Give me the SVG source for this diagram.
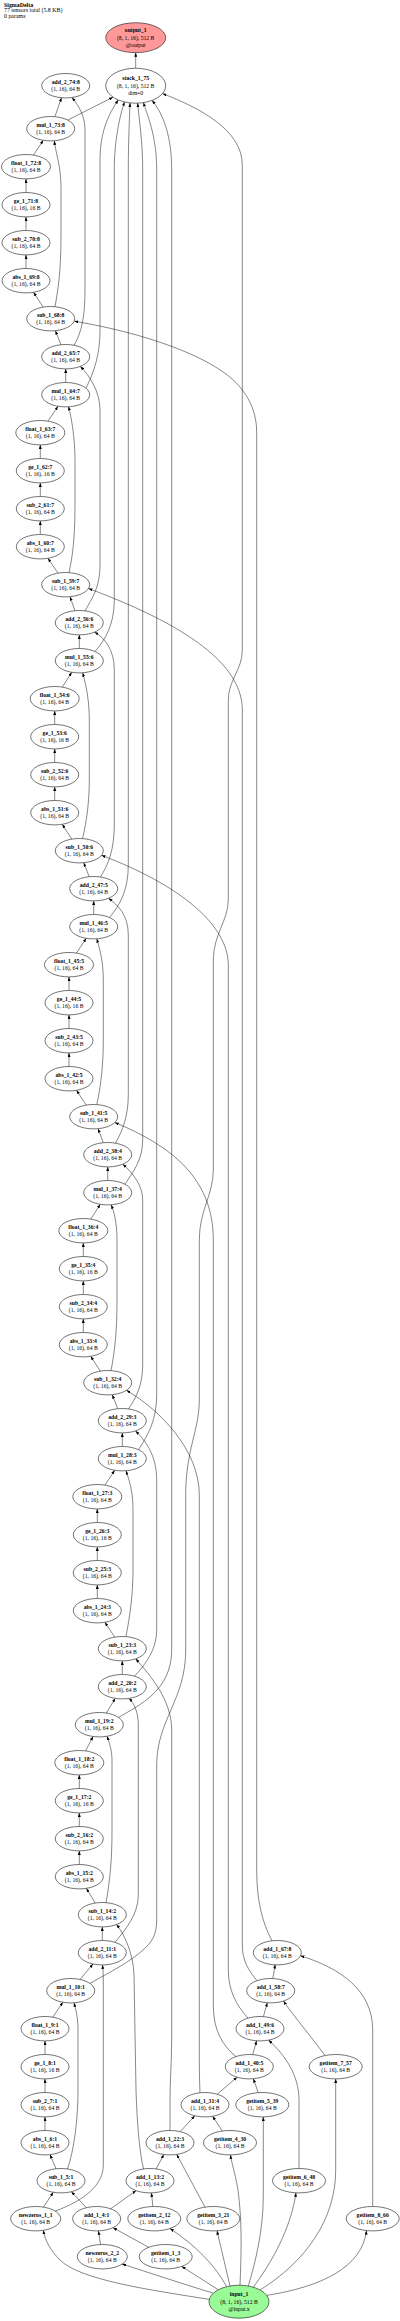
<svg xmlns="http://www.w3.org/2000/svg" width="400" height="2321" viewBox="0 0 400 2321">
<style>
.node ellipse{fill:#fff;stroke:#000;stroke-width:0.55}
text{font-family:"Liberation Serif","Times New Roman",serif;font-size:5.7px;text-anchor:middle;fill:#000}
.b{font-weight:bold}
#title text{text-anchor:start;font-size:5.9px}
#edges path{fill:none;stroke:#111;stroke-width:0.5;marker-end:url(#ah)}
</style>
<defs>
<marker id="ah" markerWidth="4" markerHeight="3" refX="4" refY="1.5" orient="auto" markerUnits="userSpaceOnUse"><path d="M0,0L4,1.5L0,3z" fill="#000"/></marker>
</defs>
<rect width="400" height="2321" fill="#fff"/>
<g id="title"><text x="4" y="6.8" class="b">SigmaDelta</text><text x="4" y="12.4">77 tensors total (5.8 KB)</text><text x="4" y="17.8">0 params</text></g>
<g id="edges">
<path d="M135.7,68.2 L135.7,52.7"/>
<path d="M67.7,120.1 L113,97.2"/>
<path d="M54.9,116.7 L61.5,97.7"/>
<path d="M33.5,155.1 L43.2,140.3"/>
<path d="M55,306.7 C60,280 61,260 61,230 L61,190 C61,165 56,155 54.3,140.8"/>
<path d="M26,192.5 L26,178.9"/>
<path d="M26,230.5 L26,216.9"/>
<path d="M26,268.5 L26,254.9"/>
<path d="M43.2,307.1 L33.5,292.3"/>
<path d="M61,344.7 L55.4,330.7"/>
<path d="M74,345.3 C82,332 85,315 85,290 L85,130 C85,115 78,105 72,97.5"/>
<path d="M272,1940.8 C262,1922 256.7,1900 256.7,1870 L256.7,432 C256.7,414 250,400 243,391 C222,360 150,334 74.3,321.2"/>
<path d="M65.7,382.5 L65.7,368.9"/>
<path d="M86,388.2 C94,372 100,355 100,330 L100,160 C100,130 110,112 118.3,100"/>
<path d="M48,421.1 L58,406.3"/>
<path d="M69,572.6 C74,550 75,530 75,500 L75,460 C75,440 72,420 68.5,406.6"/>
<path d="M40.3,458.5 L40.3,444.9"/>
<path d="M40.3,496.5 L40.3,482.9"/>
<path d="M40.3,534.5 L40.3,520.9"/>
<path d="M58,573.1 L48,558.3"/>
<path d="M75,610.7 L70,596.7"/>
<path d="M85,610.9 C92,598 100,588 100,565 L100,410 C100,392 90,376 80.3,366.4"/>
<path d="M79.3,648.5 L79.3,634.9"/>
<path d="M95,651.5 C105,640 114.3,625 114.3,600 L114.3,170 C114.3,140 120,115 124.5,101.9"/>
<path d="M62.2,687.1 L71.8,672.3"/>
<path d="M82.5,838.6 C87,820 89.3,800 89.3,780 L89.3,720 C89.3,700 86,685 82.7,672.8"/>
<path d="M54.7,724.5 L54.7,710.9"/>
<path d="M54.7,762.5 L54.7,748.9"/>
<path d="M54.7,800.5 L54.7,786.9"/>
<path d="M71.8,839.1 L62.2,824.3"/>
<path d="M89.2,876.7 L83.8,862.7"/>
<path d="M100.5,877 C108,865 114.3,850 114.3,825 L114.3,670 C114.3,650 105,638 94.5,632.1"/>
<path d="M93.7,914.5 L93.7,900.9"/>
<path d="M109.5,917.5 C120,905 128.3,890 128.3,865 L128.3,170 C128.3,140 129.5,120 130,102.9"/>
<path d="M76.5,953.1 L86.2,938.3"/>
<path d="M96.8,1104.6 C101,1085 103.3,1065 103.3,1040 L103.3,980 C103.3,962 100,950 96.8,938.8"/>
<path d="M69,990.5 L69,976.9"/>
<path d="M69,1028.5 L69,1014.9"/>
<path d="M69,1066.5 L69,1052.9"/>
<path d="M86.2,1105.1 L76.5,1090.3"/>
<path d="M103.3,1142.7 L98.1,1128.7"/>
<path d="M115.5,1143.1 C123,1130 128.3,1115 128.3,1095 L128.3,935 C128.3,915 118,905 108.5,898.3"/>
<path d="M107.7,1180.5 L107.7,1166.9"/>
<path d="M125,1184.2 C133,1172 142.7,1160 142.7,1140 L142.7,170 C142.7,140 139,120 137.7,103.1"/>
<path d="M90.7,1219.1 L100.3,1204.3"/>
<path d="M111,1370.6 C115,1350 117,1330 117,1300 L117,1240 C117,1222 114,1212 111.2,1204.8"/>
<path d="M83.3,1256.5 L83.3,1242.9"/>
<path d="M83.3,1294.5 L83.3,1280.9"/>
<path d="M83.3,1332.5 L83.3,1318.9"/>
<path d="M100.3,1371.1 L90.7,1356.3"/>
<path d="M117.7,1408.7 L112.3,1394.7"/>
<path d="M128.5,1408.9 C136,1398 142.7,1385 142.7,1365 L142.7,1200 C142.7,1185 132,1172 122.8,1164.2"/>
<path d="M122.3,1446.5 L122.3,1432.9"/>
<path d="M138.5,1449.7 C148,1435 156.7,1420 156.7,1395 L156.7,170 C156.7,135 147,115 143.5,102.6"/>
<path d="M104.9,1485.1 L114.7,1470.3"/>
<path d="M126,1636.6 C130,1615 133,1595 133,1570 L133,1510 C133,1490 129,1480 126,1470.8"/>
<path d="M97.3,1522.5 L97.3,1508.9"/>
<path d="M97.3,1560.5 L97.3,1546.9"/>
<path d="M97.3,1598.5 L97.3,1584.9"/>
<path d="M114.7,1637.1 L104.9,1622.3"/>
<path d="M122.3,1674.5 L122.3,1660.9"/>
<path d="M134.5,1676.2 C145,1665 156.7,1650 156.7,1630 L156.7,1480 C156.7,1455 145,1440 135.5,1430.9"/>
<path d="M106.4,1713 L115.2,1698.4"/>
<path d="M118.5,1717.4 C140,1705 171.7,1690 171.7,1650 L171.7,170 C171.7,130 160,110 152,100.4"/>
<path d="M85.5,1750.9 L93.1,1736.5"/>
<path d="M106,1902.8 C110,1880 112,1860 112,1830 L112,1760 C112,1750 109,1742 107,1736.3"/>
<path d="M79.3,1788.5 L79.3,1774.9"/>
<path d="M79.3,1826.5 L79.3,1812.9"/>
<path d="M79.3,1864.5 L79.3,1850.9"/>
<path d="M95.2,1903 L86.4,1888.4"/>
<path d="M102.3,1940.5 L102.3,1926.9"/>
<path d="M115,1942.3 C125,1930 138.3,1915 138.3,1895 L138.3,1725 C138.3,1712 134,1703 129,1698.4"/>
<path d="M80,1979.5 L93,1964"/>
<path d="M90,1983.4 C110,1972 130,1962 143,1950 C152,1942 156.7,1935 156.7,1920 L156.7,1765 C156.7,1720 185.7,1700 185.7,1650 L185.7,1495 C185.7,1450 199.3,1430 199.3,1400 L199.3,1240 C199.3,1210 213.3,1195 213.3,1170 L213.3,960 C213.3,935 228.3,920 228.3,900 L228.3,700 C228.3,680 242.3,670 242.3,650 L242.3,165 C242.3,130 200,108 162.5,93.6"/>
<path d="M52.8,2017.2 L62.9,2002.2"/>
<path d="M67.5,2169 C74,2150 78,2120 78,2090 L78,2030 C78,2018 76,2010 74,2002.8"/>
<path d="M45,2054.5 L45,2040.9"/>
<path d="M45,2092.5 L45,2078.9"/>
<path d="M45,2130.5 L45,2116.9"/>
<path d="M56,2168.8 L50,2154.6"/>
<path d="M43.4,2207.2 L53.3,2192.3"/>
<path d="M86.4,2207.7 L71.4,2191.7"/>
<path d="M55,2211.2 C85,2200 103.3,2185 103.3,2165 L103.3,1980 C103.3,1972 102.8,1968 102.5,1964.9"/>
<path d="M110.6,2208.8 L136.1,2190.6"/>
<path d="M152.9,2206.5 L151.4,2192.9"/>
<path d="M100.5,2244.5 L98.5,2230.9"/>
<path d="M148.7,2247.3 L113,2227.7"/>
<path d="M156.2,2168.9 L163.8,2154.5"/>
<path d="M143.5,2169 C139,2150 137,2120 136,2090 L134,1975 C133.5,1955 125,1935 116.5,1924.5"/>
<path d="M205,2207.1 L176.7,2154.4"/>
<path d="M180.2,2131.6 L194.8,2115.8"/>
<path d="M170,2130.5 L170,2100 C170,2080 171.7,2060 171.7,2040 L171.7,1730 C171.7,1700 150,1675 135.7,1658.8"/>
<path d="M222.3,2131 L212.6,2116.3"/>
<path d="M217.2,2094.2 L237.1,2077.2"/>
<path d="M200,2092.8 C199.5,2080 199.3,2070 199.3,2050 L199.3,1495 C199.3,1450 160,1410 126.5,1390.3"/>
<path d="M258.2,2092.7 L253.4,2078.7"/>
<path d="M252.7,2054.6 L256.6,2040.8"/>
<path d="M236,2056.6 C222,2045 213.3,2030 213.3,2005 L213.3,1240 C213.3,1205 200,1185 190,1172 C170,1148 140,1133 114.8,1122.5"/>
<path d="M299,2168.5 L299,2100 C299,2075 285,2055 268.5,2040.1"/>
<path d="M263.4,2016.6 L267.3,2002.8"/>
<path d="M248,2018.1 C236,2005 228.3,1990 228.3,1970 L228.3,965 C228.3,925 180,885 101.5,855.3"/>
<path d="M325,2055.5 C310,2035 295,2018 283.5,2001"/>
<path d="M272.8,1978.6 L275.2,1964.6"/>
<path d="M257,1980.7 C248,1970 242.3,1960 242.3,1945 L242.3,710 C242.3,670 200,630 88.5,588.5"/>
<path d="M372.7,2206.5 L372.7,2030 C372.7,1990 340,1968 300.5,1955.8"/>
<path d="M209.5,2299.4 C150,2290 80,2280 60,2260 C50,2250 45,2240 43.3,2230.3"/>
<path d="M213.3,2293.2 C180,2283 150,2273 122,2264"/>
<path d="M218.3,2289.8 L181.7,2266.4"/>
<path d="M226.7,2286.7 C215,2265 195,2245 170,2228.5"/>
<path d="M230,2286 L217,2230.8"/>
<path d="M240,2285.2 C241.5,2250 242,2220 238,2190 C235,2172 231.5,2163 230.5,2154.9"/>
<path d="M248.3,2286 C256,2260 263.3,2230 263.3,2195 L263.3,2116.9"/>
<path d="M253.3,2287.2 C272,2262 291,2228 296,2192.8"/>
<path d="M260,2290 C305,2262 335.7,2220 335.7,2170 L335.7,2078.9"/>
<path d="M266.7,2295.4 C320,2287 362,2268 366.5,2230.6"/>
</g>
<g id="output_1" class="node"><ellipse cx="135.7" cy="37.7" rx="30" ry="15" style="fill:#ff9999"/><text x="135.7" y="32.3" class="b">output_1</text><text x="135.7" y="39.6">(8, 1, 16), 512 B</text><text x="135.7" y="46.9">@output</text></g>
<g id="stack_1_75" class="node"><ellipse cx="135.7" cy="85.7" rx="30" ry="17.5"/><text x="135.7" y="80.3" class="b">stack_1_75</text><text x="135.7" y="87.6">(8, 1, 16), 512 B</text><text x="135.7" y="94.9">dim=0</text></g>
<g id="add_2_74_8" class="node"><ellipse cx="65.7" cy="85.7" rx="24" ry="12.2"/><text x="65.7" y="83.9" class="b">add_2_74:8</text><text x="65.7" y="91.3">(1, 16), 64 B</text></g>
<g id="mul_1_73_8" class="node"><ellipse cx="50.7" cy="128.7" rx="24" ry="12.2"/><text x="50.7" y="126.9" class="b">mul_1_73:8</text><text x="50.7" y="134.3">(1, 16), 64 B</text></g>
<g id="float_1_72_8" class="node"><ellipse cx="26" cy="166.7" rx="24.5" ry="12.2"/><text x="26" y="164.9" class="b">float_1_72:8</text><text x="26" y="172.3">(1, 16), 64 B</text></g>
<g id="ge_1_71_8" class="node"><ellipse cx="26" cy="204.7" rx="24" ry="12.2"/><text x="26" y="202.9" class="b">ge_1_71:8</text><text x="26" y="210.3">(1, 16), 16 B</text></g>
<g id="sub_2_70_8" class="node"><ellipse cx="26" cy="242.7" rx="24" ry="12.2"/><text x="26" y="240.9" class="b">sub_2_70:8</text><text x="26" y="248.3">(1, 16), 64 B</text></g>
<g id="abs_1_69_8" class="node"><ellipse cx="26" cy="280.7" rx="24" ry="12.2"/><text x="26" y="278.9" class="b">abs_1_69:8</text><text x="26" y="286.3">(1, 16), 64 B</text></g>
<g id="sub_1_68_8" class="node"><ellipse cx="50.7" cy="318.7" rx="24" ry="12.2"/><text x="50.7" y="316.9" class="b">sub_1_68:8</text><text x="50.7" y="324.3">(1, 16), 64 B</text></g>
<g id="add_2_65_7" class="node"><ellipse cx="65.7" cy="356.7" rx="24" ry="12.2"/><text x="65.7" y="354.9" class="b">add_2_65:7</text><text x="65.7" y="362.3">(1, 16), 64 B</text></g>
<g id="mul_1_64_7" class="node"><ellipse cx="65.7" cy="394.7" rx="24" ry="12.2"/><text x="65.7" y="392.9" class="b">mul_1_64:7</text><text x="65.7" y="400.3">(1, 16), 64 B</text></g>
<g id="float_1_63_7" class="node"><ellipse cx="40.3" cy="432.7" rx="24.5" ry="12.2"/><text x="40.3" y="430.9" class="b">float_1_63:7</text><text x="40.3" y="438.3">(1, 16), 64 B</text></g>
<g id="ge_1_62_7" class="node"><ellipse cx="40.3" cy="470.7" rx="24" ry="12.2"/><text x="40.3" y="468.9" class="b">ge_1_62:7</text><text x="40.3" y="476.3">(1, 16), 16 B</text></g>
<g id="sub_2_61_7" class="node"><ellipse cx="40.3" cy="508.7" rx="24" ry="12.2"/><text x="40.3" y="506.9" class="b">sub_2_61:7</text><text x="40.3" y="514.3">(1, 16), 64 B</text></g>
<g id="abs_1_60_7" class="node"><ellipse cx="40.3" cy="546.7" rx="24" ry="12.2"/><text x="40.3" y="544.9" class="b">abs_1_60:7</text><text x="40.3" y="552.3">(1, 16), 64 B</text></g>
<g id="sub_1_59_7" class="node"><ellipse cx="65.7" cy="584.7" rx="24" ry="12.2"/><text x="65.7" y="582.9" class="b">sub_1_59:7</text><text x="65.7" y="590.3">(1, 16), 64 B</text></g>
<g id="add_2_56_6" class="node"><ellipse cx="79.3" cy="622.7" rx="24" ry="12.2"/><text x="79.3" y="620.9" class="b">add_2_56:6</text><text x="79.3" y="628.3">(1, 16), 64 B</text></g>
<g id="mul_1_55_6" class="node"><ellipse cx="79.3" cy="660.7" rx="24" ry="12.2"/><text x="79.3" y="658.9" class="b">mul_1_55:6</text><text x="79.3" y="666.3">(1, 16), 64 B</text></g>
<g id="float_1_54_6" class="node"><ellipse cx="54.7" cy="698.7" rx="24.5" ry="12.2"/><text x="54.7" y="696.9" class="b">float_1_54:6</text><text x="54.7" y="704.3">(1, 16), 64 B</text></g>
<g id="ge_1_53_6" class="node"><ellipse cx="54.7" cy="736.7" rx="24" ry="12.2"/><text x="54.7" y="734.9" class="b">ge_1_53:6</text><text x="54.7" y="742.3">(1, 16), 16 B</text></g>
<g id="sub_2_52_6" class="node"><ellipse cx="54.7" cy="774.7" rx="24" ry="12.2"/><text x="54.7" y="772.9" class="b">sub_2_52:6</text><text x="54.7" y="780.3">(1, 16), 64 B</text></g>
<g id="abs_1_51_6" class="node"><ellipse cx="54.7" cy="812.7" rx="24" ry="12.2"/><text x="54.7" y="810.9" class="b">abs_1_51:6</text><text x="54.7" y="818.3">(1, 16), 64 B</text></g>
<g id="sub_1_50_6" class="node"><ellipse cx="79.3" cy="850.7" rx="24" ry="12.2"/><text x="79.3" y="848.9" class="b">sub_1_50:6</text><text x="79.3" y="856.3">(1, 16), 64 B</text></g>
<g id="add_2_47_5" class="node"><ellipse cx="93.7" cy="888.7" rx="24" ry="12.2"/><text x="93.7" y="886.9" class="b">add_2_47:5</text><text x="93.7" y="894.3">(1, 16), 64 B</text></g>
<g id="mul_1_46_5" class="node"><ellipse cx="93.7" cy="926.7" rx="24" ry="12.2"/><text x="93.7" y="924.9" class="b">mul_1_46:5</text><text x="93.7" y="932.3">(1, 16), 64 B</text></g>
<g id="float_1_45_5" class="node"><ellipse cx="69" cy="964.7" rx="24.5" ry="12.2"/><text x="69" y="962.9" class="b">float_1_45:5</text><text x="69" y="970.3">(1, 16), 64 B</text></g>
<g id="ge_1_44_5" class="node"><ellipse cx="69" cy="1002.7" rx="24" ry="12.2"/><text x="69" y="1000.9" class="b">ge_1_44:5</text><text x="69" y="1008.3">(1, 16), 16 B</text></g>
<g id="sub_2_43_5" class="node"><ellipse cx="69" cy="1040.7" rx="24" ry="12.2"/><text x="69" y="1038.9" class="b">sub_2_43:5</text><text x="69" y="1046.3">(1, 16), 64 B</text></g>
<g id="abs_1_42_5" class="node"><ellipse cx="69" cy="1078.7" rx="24" ry="12.2"/><text x="69" y="1076.9" class="b">abs_1_42:5</text><text x="69" y="1084.3">(1, 16), 64 B</text></g>
<g id="sub_1_41_5" class="node"><ellipse cx="93.7" cy="1116.7" rx="24" ry="12.2"/><text x="93.7" y="1114.9" class="b">sub_1_41:5</text><text x="93.7" y="1122.3">(1, 16), 64 B</text></g>
<g id="add_2_38_4" class="node"><ellipse cx="107.7" cy="1154.7" rx="24" ry="12.2"/><text x="107.7" y="1152.9" class="b">add_2_38:4</text><text x="107.7" y="1160.3">(1, 16), 64 B</text></g>
<g id="mul_1_37_4" class="node"><ellipse cx="107.7" cy="1192.7" rx="24" ry="12.2"/><text x="107.7" y="1190.9" class="b">mul_1_37:4</text><text x="107.7" y="1198.3">(1, 16), 64 B</text></g>
<g id="float_1_36_4" class="node"><ellipse cx="83.3" cy="1230.7" rx="24.5" ry="12.2"/><text x="83.3" y="1228.9" class="b">float_1_36:4</text><text x="83.3" y="1236.3">(1, 16), 64 B</text></g>
<g id="ge_1_35_4" class="node"><ellipse cx="83.3" cy="1268.7" rx="24" ry="12.2"/><text x="83.3" y="1266.9" class="b">ge_1_35:4</text><text x="83.3" y="1274.3">(1, 16), 16 B</text></g>
<g id="sub_2_34_4" class="node"><ellipse cx="83.3" cy="1306.7" rx="24" ry="12.2"/><text x="83.3" y="1304.9" class="b">sub_2_34:4</text><text x="83.3" y="1312.3">(1, 16), 64 B</text></g>
<g id="abs_1_33_4" class="node"><ellipse cx="83.3" cy="1344.7" rx="24" ry="12.2"/><text x="83.3" y="1342.9" class="b">abs_1_33:4</text><text x="83.3" y="1350.3">(1, 16), 64 B</text></g>
<g id="sub_1_32_4" class="node"><ellipse cx="107.7" cy="1382.7" rx="24" ry="12.2"/><text x="107.7" y="1380.9" class="b">sub_1_32:4</text><text x="107.7" y="1388.3">(1, 16), 64 B</text></g>
<g id="add_2_29_3" class="node"><ellipse cx="122.3" cy="1420.7" rx="24" ry="12.2"/><text x="122.3" y="1418.9" class="b">add_2_29:3</text><text x="122.3" y="1426.3">(1, 16), 64 B</text></g>
<g id="mul_1_28_3" class="node"><ellipse cx="122.3" cy="1458.7" rx="24" ry="12.2"/><text x="122.3" y="1456.9" class="b">mul_1_28:3</text><text x="122.3" y="1464.3">(1, 16), 64 B</text></g>
<g id="float_1_27_3" class="node"><ellipse cx="97.3" cy="1496.7" rx="24.5" ry="12.2"/><text x="97.3" y="1494.9" class="b">float_1_27:3</text><text x="97.3" y="1502.3">(1, 16), 64 B</text></g>
<g id="ge_1_26_3" class="node"><ellipse cx="97.3" cy="1534.7" rx="24" ry="12.2"/><text x="97.3" y="1532.9" class="b">ge_1_26:3</text><text x="97.3" y="1540.3">(1, 16), 16 B</text></g>
<g id="sub_2_25_3" class="node"><ellipse cx="97.3" cy="1572.7" rx="24" ry="12.2"/><text x="97.3" y="1570.9" class="b">sub_2_25:3</text><text x="97.3" y="1578.3">(1, 16), 64 B</text></g>
<g id="abs_1_24_3" class="node"><ellipse cx="97.3" cy="1610.7" rx="24" ry="12.2"/><text x="97.3" y="1608.9" class="b">abs_1_24:3</text><text x="97.3" y="1616.3">(1, 16), 64 B</text></g>
<g id="sub_1_23_3" class="node"><ellipse cx="122.3" cy="1648.7" rx="24" ry="12.2"/><text x="122.3" y="1646.9" class="b">sub_1_23:3</text><text x="122.3" y="1654.3">(1, 16), 64 B</text></g>
<g id="add_2_20_2" class="node"><ellipse cx="122.3" cy="1686.7" rx="24" ry="12.2"/><text x="122.3" y="1684.9" class="b">add_2_20:2</text><text x="122.3" y="1692.3">(1, 16), 64 B</text></g>
<g id="mul_1_19_2" class="node"><ellipse cx="99.3" cy="1724.7" rx="24" ry="12.2"/><text x="99.3" y="1722.9" class="b">mul_1_19:2</text><text x="99.3" y="1730.3">(1, 16), 64 B</text></g>
<g id="float_1_18_2" class="node"><ellipse cx="79.3" cy="1762.7" rx="24.5" ry="12.2"/><text x="79.3" y="1760.9" class="b">float_1_18:2</text><text x="79.3" y="1768.3">(1, 16), 64 B</text></g>
<g id="ge_1_17_2" class="node"><ellipse cx="79.3" cy="1800.7" rx="24" ry="12.2"/><text x="79.3" y="1798.9" class="b">ge_1_17:2</text><text x="79.3" y="1806.3">(1, 16), 16 B</text></g>
<g id="sub_2_16_2" class="node"><ellipse cx="79.3" cy="1838.7" rx="24" ry="12.2"/><text x="79.3" y="1836.9" class="b">sub_2_16:2</text><text x="79.3" y="1844.3">(1, 16), 64 B</text></g>
<g id="abs_1_15_2" class="node"><ellipse cx="79.3" cy="1876.7" rx="24" ry="12.2"/><text x="79.3" y="1874.9" class="b">abs_1_15:2</text><text x="79.3" y="1882.3">(1, 16), 64 B</text></g>
<g id="sub_1_14_2" class="node"><ellipse cx="102.3" cy="1914.7" rx="24" ry="12.2"/><text x="102.3" y="1912.9" class="b">sub_1_14:2</text><text x="102.3" y="1920.3">(1, 16), 64 B</text></g>
<g id="add_2_11_1" class="node"><ellipse cx="102.3" cy="1952.7" rx="24" ry="12.2"/><text x="102.3" y="1950.9" class="b">add_2_11:1</text><text x="102.3" y="1958.3">(1, 16), 64 B</text></g>
<g id="mul_1_10_1" class="node"><ellipse cx="70.7" cy="1990.7" rx="24" ry="12.2"/><text x="70.7" y="1988.9" class="b">mul_1_10:1</text><text x="70.7" y="1996.3">(1, 16), 64 B</text></g>
<g id="float_1_9_1" class="node"><ellipse cx="45" cy="2028.7" rx="24" ry="12.2"/><text x="45" y="2026.9" class="b">float_1_9:1</text><text x="45" y="2034.3">(1, 16), 64 B</text></g>
<g id="ge_1_8_1" class="node"><ellipse cx="45" cy="2066.7" rx="24" ry="12.2"/><text x="45" y="2064.9" class="b">ge_1_8:1</text><text x="45" y="2072.3">(1, 16), 16 B</text></g>
<g id="sub_2_7_1" class="node"><ellipse cx="45" cy="2104.7" rx="24" ry="12.2"/><text x="45" y="2102.9" class="b">sub_2_7:1</text><text x="45" y="2110.3">(1, 16), 64 B</text></g>
<g id="abs_1_6_1" class="node"><ellipse cx="45" cy="2142.7" rx="24" ry="12.2"/><text x="45" y="2140.9" class="b">abs_1_6:1</text><text x="45" y="2148.3">(1, 16), 64 B</text></g>
<g id="sub_1_5_1" class="node"><ellipse cx="61" cy="2180.7" rx="24" ry="12.2"/><text x="61" y="2178.9" class="b">sub_1_5:1</text><text x="61" y="2186.3">(1, 16), 64 B</text></g>
<g id="newzeros_1_1" class="node"><ellipse cx="35.7" cy="2218.7" rx="25" ry="12.2"/><text x="35.7" y="2216.9" class="b">newzeros_1_1</text><text x="35.7" y="2224.3">(1, 16), 64 B</text></g>
<g id="add_1_4_1" class="node"><ellipse cx="96.7" cy="2218.7" rx="24" ry="12.2"/><text x="96.7" y="2216.9" class="b">add_1_4:1</text><text x="96.7" y="2224.3">(1, 16), 64 B</text></g>
<g id="newzeros_2_2" class="node"><ellipse cx="102.3" cy="2256.7" rx="25" ry="12.2"/><text x="102.3" y="2254.9" class="b">newzeros_2_2</text><text x="102.3" y="2262.3">(1, 16), 64 B</text></g>
<g id="getitem_1_3" class="node"><ellipse cx="165.7" cy="2256.7" rx="26.5" ry="12.2"/><text x="165.7" y="2254.9" class="b">getitem_1_3</text><text x="165.7" y="2262.3">(1, 16), 64 B</text></g>
<g id="getitem_2_12" class="node"><ellipse cx="154.3" cy="2218.7" rx="26.5" ry="12.2"/><text x="154.3" y="2216.9" class="b">getitem_2_12</text><text x="154.3" y="2224.3">(1, 16), 64 B</text></g>
<g id="add_1_13_2" class="node"><ellipse cx="150" cy="2180.7" rx="24" ry="12.2"/><text x="150" y="2178.9" class="b">add_1_13:2</text><text x="150" y="2186.3">(1, 16), 64 B</text></g>
<g id="add_1_22_3" class="node"><ellipse cx="170" cy="2142.7" rx="24" ry="12.2"/><text x="170" y="2140.9" class="b">add_1_22:3</text><text x="170" y="2148.3">(1, 16), 64 B</text></g>
<g id="getitem_3_21" class="node"><ellipse cx="213.3" cy="2218.7" rx="26.5" ry="12.2"/><text x="213.3" y="2216.9" class="b">getitem_3_21</text><text x="213.3" y="2224.3">(1, 16), 64 B</text></g>
<g id="getitem_4_30" class="node"><ellipse cx="230" cy="2142.7" rx="26.5" ry="12.2"/><text x="230" y="2140.9" class="b">getitem_4_30</text><text x="230" y="2148.3">(1, 16), 64 B</text></g>
<g id="add_1_31_4" class="node"><ellipse cx="205" cy="2104.7" rx="24" ry="12.2"/><text x="205" y="2102.9" class="b">add_1_31:4</text><text x="205" y="2110.3">(1, 16), 64 B</text></g>
<g id="getitem_5_39" class="node"><ellipse cx="262.3" cy="2104.7" rx="26.5" ry="12.2"/><text x="262.3" y="2102.9" class="b">getitem_5_39</text><text x="262.3" y="2110.3">(1, 16), 64 B</text></g>
<g id="add_1_40_5" class="node"><ellipse cx="249.3" cy="2066.7" rx="24" ry="12.2"/><text x="249.3" y="2064.9" class="b">add_1_40:5</text><text x="249.3" y="2072.3">(1, 16), 64 B</text></g>
<g id="getitem_6_48" class="node"><ellipse cx="299" cy="2180.7" rx="26.5" ry="12.2"/><text x="299" y="2178.9" class="b">getitem_6_48</text><text x="299" y="2186.3">(1, 16), 64 B</text></g>
<g id="add_1_49_6" class="node"><ellipse cx="260" cy="2028.7" rx="24" ry="12.2"/><text x="260" y="2026.9" class="b">add_1_49:6</text><text x="260" y="2034.3">(1, 16), 64 B</text></g>
<g id="getitem_7_57" class="node"><ellipse cx="335.7" cy="2066.7" rx="26.5" ry="12.2"/><text x="335.7" y="2064.9" class="b">getitem_7_57</text><text x="335.7" y="2072.3">(1, 16), 64 B</text></g>
<g id="add_1_58_7" class="node"><ellipse cx="270.7" cy="1990.7" rx="24" ry="12.2"/><text x="270.7" y="1988.9" class="b">add_1_58:7</text><text x="270.7" y="1996.3">(1, 16), 64 B</text></g>
<g id="add_1_67_8" class="node"><ellipse cx="277.3" cy="1952.7" rx="24" ry="12.2"/><text x="277.3" y="1950.9" class="b">add_1_67:8</text><text x="277.3" y="1958.3">(1, 16), 64 B</text></g>
<g id="getitem_8_66" class="node"><ellipse cx="372.7" cy="2218.7" rx="26.5" ry="12.2"/><text x="372.7" y="2216.9" class="b">getitem_8_66</text><text x="372.7" y="2224.3">(1, 16), 64 B</text></g>
<g id="input_1" class="node"><ellipse cx="239" cy="2301.7" rx="30" ry="16.5" style="fill:#98fb98"/><text x="239" y="2296.3" class="b">input_1</text><text x="239" y="2303.6">(8, 1, 16), 512 B</text><text x="239" y="2310.9">@input.x</text></g>
</svg>
